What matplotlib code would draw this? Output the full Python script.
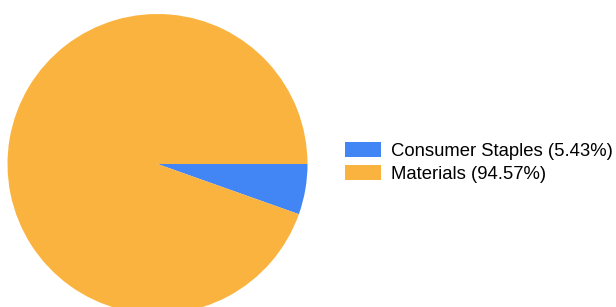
import matplotlib.pyplot as plt

sectors = ["Consumer Staples", "Materials"]
weights = [5.43, 94.57]
colors = ["#4285F4", "#FBB33F"]

plt.rcParams['font.family'] = ['Liberation Sans', 'DejaVu Sans']

fig = plt.figure(figsize=(6.16, 3.07), dpi=100)
ax = fig.add_axes([0, 0, 1, 1])

# y axis flipped so the pie runs clockwise from 3 o'clock, as in the source
wedges, _ = ax.pie(weights, colors=colors, startangle=0, counterclock=True,
                   center=(157.5, 164), radius=150, frame=True,
                   wedgeprops=dict(linewidth=0))
ax.set_xlim(0, 616)
ax.set_ylim(307, 0)
ax.set_aspect('equal')
ax.axis('off')

labels = [f"{s} ({w:.2f}%)" for s, w in zip(sectors, weights)]
fig.legend(wedges, labels, loc='center left', bbox_to_anchor=(345 / 616, 0.471),
           frameon=False, fontsize=13.3, borderpad=0, borderaxespad=0,
           handlelength=1.95, handleheight=0.87, handletextpad=0.55,
           labelspacing=0.28)

fig.savefig("out.png", dpi=100)
